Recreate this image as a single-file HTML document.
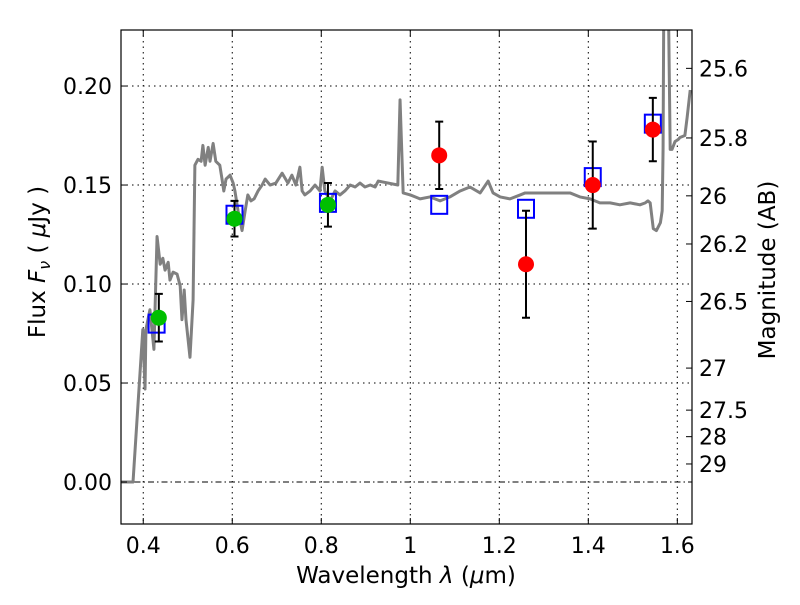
<!DOCTYPE html>
<html><head><meta charset="utf-8"><style>
body{margin:0;background:#fff}
svg text{font-family:"DejaVu Sans","Liberation Sans",sans-serif;fill:#000}
</style></head><body>
<svg id="chart" width="800" height="600" xmlns="http://www.w3.org/2000/svg">
<defs><clipPath id="clip"><rect x="121" y="30" width="571" height="494"/></clipPath></defs>
<g id="grid"></g>
<g id="spec" clip-path="url(#clip)"></g>
<g id="marks" clip-path="url(#clip)"></g>
<rect x="121" y="30" width="571" height="494" fill="none" stroke="#000" stroke-width="1.2"/>
<g id="axes"></g>
<text x="406" y="583" font-size="23" text-anchor="middle">Wavelength  <tspan font-style="italic">λ</tspan> (<tspan font-style="italic">μ</tspan>m)</text>
<text transform="translate(45,262) rotate(-90)" font-size="23" text-anchor="middle">Flux  <tspan font-style="italic">F</tspan><tspan font-style="italic" font-size="16" dy="5">ν</tspan><tspan dy="-5">  (  </tspan><tspan font-style="italic">μ</tspan>Jy )</text>
<text transform="translate(775,270) rotate(-90)" font-size="23" text-anchor="middle">Magnitude (AB)</text>
</svg>
<script>
const xTicks=[0.4,0.6,0.8,1.0,1.2,1.4,1.6];
const xTickLabels=["0.4","0.6","0.8","1","1.2","1.4","1.6"];
const yTicks=[0,0.05,0.1,0.15,0.2];
const yTickLabels=["0.00","0.05","0.10","0.15","0.20"];
const magTicks=[25.6,25.8,26,26.2,26.5,27,27.5,28,29];
const magLabels=["25.6","25.8","26","26.2","26.5","27","27.5","28","29"];
const specWave=[0.348,0.377,0.399,0.404,0.406,0.415,0.424,0.431,0.438,0.444,0.449,0.456,0.460,0.467,0.476,0.483,0.487,0.492,0.496,0.505,0.512,0.516,0.523,0.530,0.534,0.539,0.546,0.550,0.557,0.563,0.572,0.577,0.581,0.586,0.595,0.602,0.606,0.613,0.622,0.629,0.635,0.642,0.649,0.658,0.667,0.674,0.685,0.698,0.712,0.725,0.734,0.743,0.752,0.757,0.763,0.775,0.786,0.797,0.802,0.808,0.820,0.831,0.842,0.853,0.865,0.876,0.887,0.898,0.910,0.921,0.928,0.972,0.977,0.984,1.000,1.011,1.022,1.044,1.067,1.078,1.089,1.112,1.134,1.157,1.175,1.186,1.202,1.224,1.247,1.258,1.280,1.314,1.359,1.381,1.404,1.415,1.426,1.449,1.471,1.494,1.516,1.528,1.534,1.539,1.546,1.553,1.562,1.566,1.568,1.570,1.579,1.584,1.588,1.595,1.602,1.606,1.617,1.622,1.629];
const specFlux=[0,0,0.077,0.047,0.077,0.087,0.067,0.124,0.110,0.113,0.107,0.111,0.102,0.106,0.105,0.099,0.082,0.097,0.082,0.063,0.092,0.160,0.163,0.162,0.170,0.160,0.169,0.162,0.171,0.162,0.160,0.153,0.147,0.153,0.155,0.151,0.147,0.137,0.127,0.137,0.145,0.142,0.143,0.147,0.150,0.153,0.150,0.151,0.156,0.151,0.155,0.150,0.159,0.147,0.145,0.147,0.150,0.147,0.159,0.147,0.142,0.147,0.145,0.147,0.150,0.149,0.151,0.149,0.150,0.149,0.152,0.150,0.193,0.146,0.145,0.144,0.143,0.144,0.142,0.143,0.144,0.147,0.149,0.146,0.152,0.146,0.144,0.143,0.145,0.146,0.146,0.146,0.146,0.144,0.143,0.142,0.141,0.141,0.140,0.141,0.140,0.141,0.142,0.141,0.128,0.127,0.131,0.137,0.168,0.26,0.26,0.168,0.168,0.172,0.173,0.174,0.175,0.184,0.198];
const hstWave=[0.435,0.605,0.815];
const hstFlux=[0.083,0.133,0.140];
const hstErr=[0.012,0.009,0.011];
const irWave=[1.065,1.26,1.41,1.545];
const irFlux=[0.165,0.110,0.150,0.178];
const irErr=[0.017,0.027,0.022,0.016];
const modelWave=[0.43,0.605,0.815,1.065,1.26,1.41,1.545];
const modelFlux=[0.080,0.135,0.141,0.140,0.138,0.154,0.181];

const X0=121,X1=692,Y0=30,Y1=524,xmin=0.35,xmax=1.633,ymin=-0.0212,ymax=0.2283;
const sx=v=>X0+(v-xmin)/(xmax-xmin)*(X1-X0);
const sy=v=>Y1-(v-ymin)/(ymax-ymin)*(Y1-Y0);
const NS="http://www.w3.org/2000/svg";
function mk(tag,attrs,parent){const e=document.createElementNS(NS,tag);for(const k in attrs)e.setAttribute(k,attrs[k]);document.getElementById(parent).appendChild(e);return e;}
xTicks.forEach((t,i)=>{const x=sx(t);
 let g=mk('line',{x1:x,x2:x,y1:Y0,y2:Y1,stroke:'#000','stroke-width':1,'stroke-dasharray':'1.5,4'},'grid');
 
 
 let a=mk('line',{x1:x,x2:x,y1:Y1,y2:Y1-6,stroke:'#000'},'axes');
 
 
 let b=mk('line',{x1:x,x2:x,y1:Y0,y2:Y0+6,stroke:'#000'},'axes');
 
 
 let t2=mk('text',{x:x,y:553,'font-size':22,'text-anchor':'middle'},'axes');t2.textContent=xTickLabels[i];
 
 
});
yTicks.forEach((t,i)=>{const y=sy(t);
 let g=mk('line',{x1:X0,x2:X1,y1:y,y2:y,stroke:'#000','stroke-width':1,'stroke-dasharray':t===0?'6,3,1.5,3':'1.5,4'},'grid');
 
 
 let a=mk('line',{x1:X0,x2:X0+6,y1:y,y2:y,stroke:'#000'},'axes');
 
 
 let t2=mk('text',{x:112,y:y+8,'font-size':22,'text-anchor':'end'},'axes');t2.textContent=yTickLabels[i];
 
 
});
magTicks.forEach((m,i)=>{const f=Math.pow(10,(23.9-m)/2.5);const y=sy(f);
 let a=mk('line',{x1:X1,x2:X1-6,y1:y,y2:y,stroke:'#000'},'axes');
 
 
 let t2=mk('text',{x:699,y:y+8,'font-size':22},'axes');t2.textContent=magLabels[i];
 
 
});
let p=mk('polyline',{points:specWave.map((w,i)=>sx(w)+','+sy(specFlux[i])).join(' '),fill:'none',stroke:'#808080','stroke-width':3,'stroke-linejoin':'round'},'spec');


modelWave.forEach((w,i)=>{
 let r=mk('rect',{x:sx(w)-8,y:sy(modelFlux[i])-9,width:16,height:18,fill:'none',stroke:'#0000ff','stroke-width':2},'marks');
 
 
});
function pts(wave,flux,err,color,name){wave.forEach((w,i)=>{const x=sx(w),yt=sy(flux[i]+err[i]),yb=sy(flux[i]-err[i]);
 let e=mk('path',{d:`M${x},${yt}V${yb}M${x-4},${yt}H${x+4}M${x-4},${yb}H${x+4}`,stroke:'#000','stroke-width':2,fill:'none'},'marks');
 
 
 let c=mk('circle',{cx:x,cy:sy(flux[i]),r:8,fill:color},'marks');
 
 
});}
pts(hstWave,hstFlux,hstErr,'#00bf00','optical-point');
pts(irWave,irFlux,irErr,'#ff0000','infrared-point');
</script>
</body></html>
